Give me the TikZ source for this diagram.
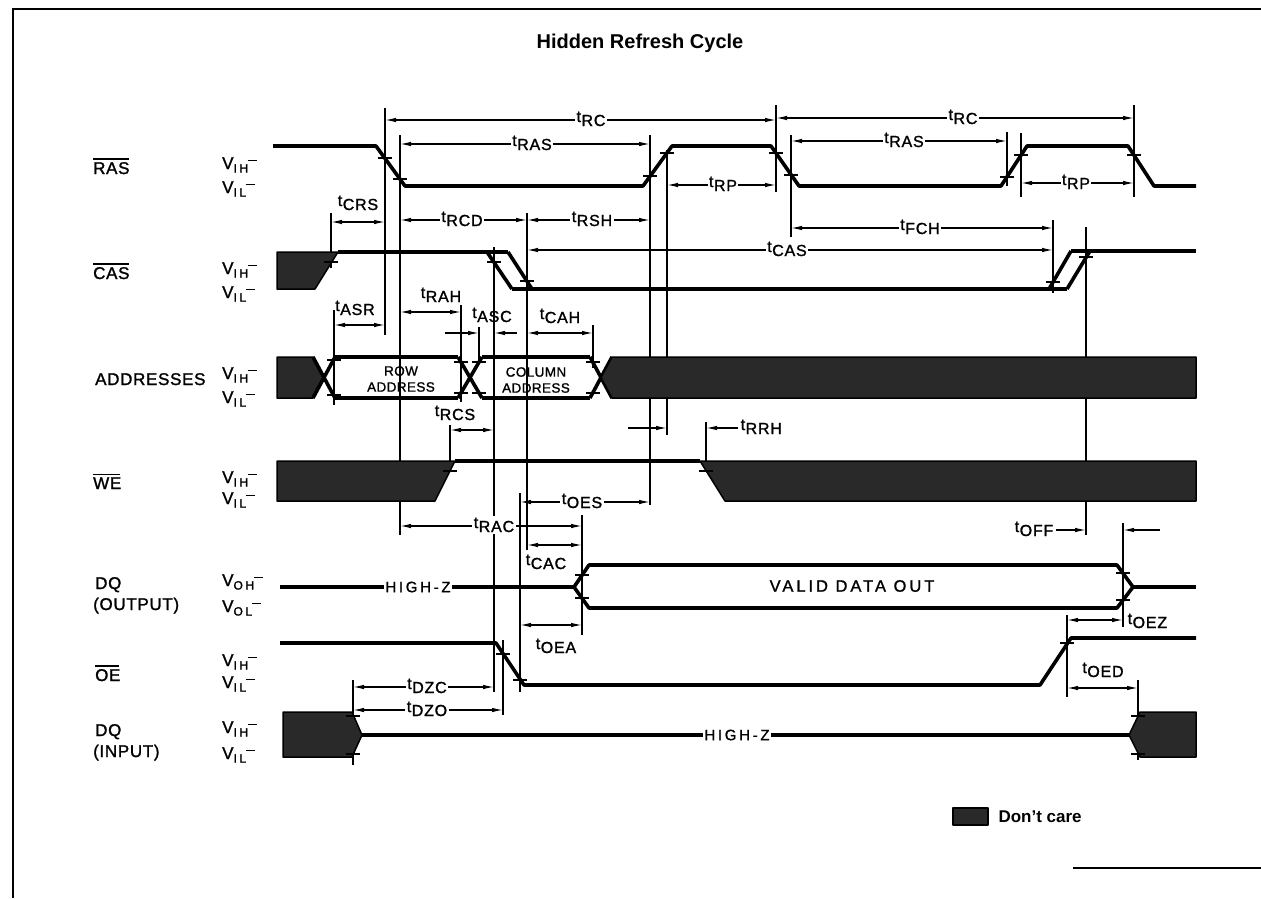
\documentclass[tikz,border=0pt]{standalone}
\usepackage{fontspec}
\setmainfont{Liberation Sans}
\newfontfamily\lblfam{Liberation Sans}[FakeBold=1.4,LetterSpace=5]
\newfontfamily\sigfam{Liberation Sans}[FakeBold=1.4,LetterSpace=4]
\newfontfamily\subfam{Liberation Sans}[FakeBold=1.2,LetterSpace=22]
\newfontfamily\boxfam{Liberation Sans}[FakeBold=1.2,LetterSpace=3]
\newfontfamily\widefam{Liberation Sans}[FakeBold=1.2,LetterSpace=18]
\usetikzlibrary{arrows.meta}
\newcommand\tsym[1]{\raisebox{4pt}{t}\kern0.5pt#1}
\newcommand\vlab[1]{{\sigfam\fontsize{17}{17}\selectfont V}\raisebox{-3.5pt}{\subfam\fontsize{12}{12}\selectfont #1}\rule[8pt]{9pt}{1.4pt}}
\newcommand\barred[1]{\setbox0\hbox{#1}\rlap{\rule[\dimexpr\ht0+2.2pt\relax]{\dimexpr\wd0-1pt\relax}{1.5pt}}\box0}
\newcommand\tfnt{\lblfam\fontsize{16}{18}\selectfont}
\newcommand\sigfnt{\sigfam\fontsize{17}{19}\selectfont}
\begin{document}
\begin{tikzpicture}[x=1pt,y=-1pt,
  wave/.style={line width=3.6pt,line join=round},
  vline/.style={line width=1.3pt},
  dimline/.style={line width=1.2pt,{Latex[length=11pt,width=4.5pt]}-{Latex[length=11pt,width=4.5pt]}},
  onearrow/.style={line width=1.2pt,-{Latex[length=11pt,width=4.5pt]}},
  dontcare/.style={fill=black!84,draw=black,line width=1.5pt,line join=round},
  tickmark/.style={line width=1.4pt},
  tlabel/.style={font=\tfnt,inner sep=1.5pt,anchor=base},
  inl/.style={tlabel,fill=white},
  sig/.style={font=\sigfnt,anchor=base west,inner sep=0pt},
  lev/.style={anchor=base west,inner sep=0pt},
  boxtext/.style={font=\boxfam\fontsize{13.5}{16}\selectfont,align=center,inner sep=0pt},
  widetext/.style={font=\widefam\fontsize{15}{17}\selectfont,inner sep=1pt}]
\useasboundingbox (0,0) rectangle (1261,898);
% frame
\draw[line width=2pt] (13,898) -- (13,9) -- (1261,9);
\draw[line width=1.5pt] (1073,868) -- (1261,868);
% title
\node[font=\bfseries\fontsize{20}{23}\selectfont] (title) at (640,43) {Hidden Refresh Cycle};
% signal names
\node[sig] (nRAS) at (93,174) {\barred{RAS}};
\node[sig] (nCAS) at (93,279) {\barred{CAS}};
\node[sig] (nADDR) at (95,385) {ADDRESSES};
\node[sig] (nWE) at (93,489) {\barred{WE}};
\node[sig] (nDQo1) at (95,589) {DQ};
\node[sig] (nDQo2) at (93,610) {(OUTPUT)};
\node[sig] (nOE) at (95,681) {\barred{OE}};
\node[sig] (nDQi1) at (95,736) {DQ};
\node[sig] (nDQi2) at (93,757) {(INPUT)};
% level labels
\node[lev] (v1) at (222,169) {\vlab{IH}};
\node[lev] (v2) at (222,193) {\vlab{IL}};
\node[lev] (v3) at (222,274) {\vlab{IH}};
\node[lev] (v4) at (222,298) {\vlab{IL}};
\node[lev] (v5) at (222,379) {\vlab{IH}};
\node[lev] (v6) at (222,403) {\vlab{IL}};
\node[lev] (v7) at (222,483) {\vlab{IH}};
\node[lev] (v8) at (222,504) {\vlab{IL}};
\node[lev] (v9) at (222,586) {\vlab{OH}};
\node[lev] (v10) at (222,612) {\vlab{OL}};
\node[lev] (v11) at (222,666) {\vlab{IH}};
\node[lev] (v12) at (222,688) {\vlab{IL}};
\node[lev] (v13) at (222,733) {\vlab{IH}};
\node[lev] (v14) at (222,759) {\vlab{IL}};
% vertical reference lines
\foreach \x/\a/\b in {331/213/268, 334/310/405, 385/108/335, 400/135/535, 450/425/472,
  461/305/402, 479/327/362, 494/247/692, 503/640/715, 520/493/692, 527/213/550,
  582/515/635, 593/325/368, 650/135/505, 667/150/435, 706/422/472, 776/105/192,
  791/135/237, 1007/132/186, 1021/133/197, 1053/220/293, 1086/227/535, 1123/523/627,
  1134/105/197, 1067/615/697, 1138/680/760, 353/680/765}
  \draw[vline] (\x,\a) -- (\x,\b);
% RAS
\draw[wave] (273,146) -- (376,146) -- (405,186) -- (643,186) -- (672,146) -- (771,146)
  -- (799,186) -- (1001,186) -- (1027,146) -- (1128,146) -- (1154,186) -- (1196,186);
% CAS
\filldraw[dontcare] (277,252) -- (338,252) -- (315,289) -- (277,289) -- cycle;
\draw[wave] (338,252) -- (508,252);
\draw[wave] (487,252) -- (512,289);
\draw[wave] (508,252) -- (532,289);
\draw[wave] (512,289) -- (1067,289);
\draw[wave] (1049,289) -- (1071,251);
\draw[wave] (1067,289) -- (1090,251);
\draw[wave] (1071,251) -- (1196,251);
% ADDRESSES
\filldraw[dontcare] (277,357) -- (313,357) -- (324,377.5) -- (313,398) -- (277,398) -- cycle;
\draw[wave] (313,357) -- (335,398);
\draw[wave] (313,398) -- (335,357);
\draw[wave] (335,357) -- (458,357);
\draw[wave] (335,398) -- (458,398);
\draw[wave] (458,357) -- (482,398);
\draw[wave] (458,398) -- (482,357);
\draw[wave] (482,357) -- (590,357);
\draw[wave] (482,398) -- (590,398);
\draw[wave] (590,357) -- (612,398);
\draw[wave] (590,398) -- (612,357);
\filldraw[dontcare] (601,377.5) -- (612,357) -- (1196,357) -- (1196,398) -- (612,398) -- cycle;
\node[boxtext] (rowaddr) at (401,379) {ROW\\ADDRESS};
\node[boxtext] (coladdr) at (536,380) {COLUMN\\ADDRESS};
% WE
\filldraw[dontcare] (277,461) -- (455,461) -- (435,501) -- (277,501) -- cycle;
\draw[wave] (455,461) -- (700,461);
\filldraw[dontcare] (700,461) -- (1196,461) -- (1196,501) -- (725,501) -- cycle;
% DQ output
\draw[wave] (280,587) -- (574,587);
\draw[wave] (574,587) -- (589,565) -- (1117,565) -- (1133,587) -- (1117,608) -- (589,608) -- cycle;
\draw[wave] (1133,587) -- (1196,587);
\node[widetext,fill=white] (hz1) at (418,587) {HIGH-Z};
\node[widetext,font=\widefam\fontsize{16.5}{18}\selectfont] (vdo) at (852,586) {VALID DATA OUT};
% OE
\draw[wave] (280,643) -- (496,643) -- (524,685) -- (1040,685) -- (1071,638) -- (1196,638);
% DQ input
\filldraw[dontcare] (283,712) -- (352,712) -- (362,735) -- (352,757) -- (283,757) -- cycle;
\draw[wave] (362,735) -- (1129,735);
\filldraw[dontcare] (1129,735) -- (1140,712) -- (1196,712) -- (1196,757) -- (1140,757) -- cycle;
\node[widetext,fill=white] (hz2) at (737,735) {HIGH-Z};
% tick marks
\foreach \x/\y in {385/158, 400/179, 650/176, 667/153, 776/153, 791/175, 1007/177, 1021/155, 1134/155,
  331/262, 494/262, 527/281, 1053/282, 1086/257,
  334/360, 334/395, 461/362, 461/393, 479/362, 479/393, 593/362, 593/393,
  450/471, 706/471, 582/575, 582/598, 1123/573, 1123/600,
  503/654, 520/680, 1067/643, 353/716, 353/754, 1138/716, 1138/754}
  \draw[tickmark] (\x-7,\y) -- (\x+7,\y);
% dimension arrows
\draw[dimline] (385,120) -- (776,120);
\node[inl] (tRC1) at (591,126) {\tsym{RC}};
\draw[dimline] (776,118) -- (1134,118);
\node[inl] (tRC2) at (963,124) {\tsym{RC}};
\draw[dimline] (400,144) -- (650,144);
\node[inl] (tRAS1) at (532,150) {\tsym{RAS}};
\draw[dimline] (791,141) -- (1007,141);
\node[inl] (tRAS2) at (904,147) {\tsym{RAS}};
\draw[dimline] (667,185) -- (776,185);
\node[inl] (tRP1) at (723,191) {\tsym{RP}};
\draw[dimline] (1021,183) -- (1134,183);
\node[inl] (tRP2) at (1076,189) {\tsym{RP}};
\draw[dimline] (331,222) -- (385,222);
\node[tlabel] (tCRS) at (358,210) {\tsym{CRS}};
\draw[dimline] (400,220) -- (527,220);
\node[inl] (tRCD) at (462,226) {\tsym{RCD}};
\draw[dimline] (527,220) -- (650,220);
\node[inl] (tRSH) at (592,226) {\tsym{RSH}};
\draw[dimline] (791,228) -- (1053,228);
\node[inl] (tFCH) at (920,234) {\tsym{FCH}};
\draw[dimline] (527,250) -- (1053,250);
\node[inl] (tCAS) at (787,256) {\tsym{CAS}};
\draw[dimline] (334,325) -- (385,325);
\node[tlabel] (tASR) at (355,315) {\tsym{ASR}};
\draw[dimline] (400,312) -- (461,312);
\node[tlabel] (tRAH) at (441,302) {\tsym{RAH}};
\draw[onearrow] (445,333) -- (479,333);
\draw[onearrow] (517,333) -- (494,333);
\node[tlabel] (tASC) at (492,322) {\tsym{ASC}};
\draw[dimline] (527,333) -- (593,333);
\node[tlabel] (tCAH) at (560,323) {\tsym{CAH}};
\draw[dimline] (450,430) -- (494,430);
\node[tlabel] (tRCS) at (455,420) {\tsym{RCS}};
\draw[onearrow] (628,428) -- (667,428);
\draw[onearrow] (738,428) -- (706,428);
\node[tlabel,anchor=base west] (tRRH) at (739,434) {\tsym{RRH}};
\draw[dimline] (520,502) -- (650,502);
\node[inl] (tOES) at (582,508) {\tsym{OES}};
\draw[dimline] (400,526) -- (582,526);
\node[inl] (tRAC) at (494,532) {\tsym{RAC}};
\draw[dimline] (527,545) -- (582,545);
\node[tlabel] (tCAC) at (546,569) {\tsym{CAC}};
\draw[dimline] (520,625) -- (582,625);
\node[tlabel] (tOEA) at (556,653) {\tsym{OEA}};
\draw[dimline] (353,687) -- (494,687);
\node[inl] (tDZC) at (427,693) {\tsym{DZC}};
\draw[dimline] (353,710) -- (503,710);
\node[inl] (tDZO) at (427,716) {\tsym{DZO}};
\draw[onearrow] (1056,530) -- (1086,530);
\node[tlabel,anchor=base east] (tOFF) at (1055,536) {\tsym{OFF}};
\draw[onearrow] (1160,530) -- (1123,530);
\draw[dimline] (1067,620) -- (1123,620);
\node[tlabel,anchor=base west] (tOEZ) at (1126,628) {\tsym{OEZ}};
\draw[dimline] (1067,688) -- (1138,688);
\node[tlabel] (tOED) at (1103,677) {\tsym{OED}};
% legend
\filldraw[dontcare] (953,808) rectangle (988,825);
\node[anchor=west,font=\bfseries\fontsize{17}{19}\selectfont] (legend) at (995,817) {Don’t care};
\end{tikzpicture}
\end{document}
